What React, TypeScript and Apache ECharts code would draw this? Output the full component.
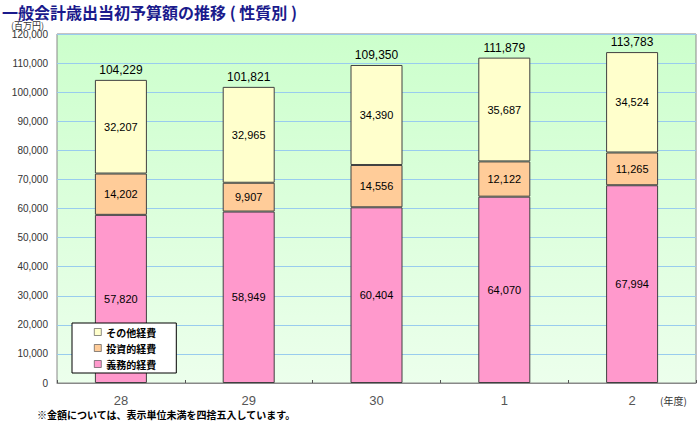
import React, { useEffect, useRef } from "react";
import * as echarts from "echarts";

const categories = ["28", "29", "30", "1", "2"];
const gimuteki = [57820, 58949, 60404, 64070, 67994];
const toushiteki = [14202, 9907, 14556, 12122, 11265];
const sonota = [32207, 32965, 34390, 35687, 34524];
const totals = [104229, 101821, 109350, 111879, 113783];
const seriesNames = ["義務的経費", "投資的経費", "その他経費"];
const legendOrder = ["その他経費", "投資的経費", "義務的経費"];

const FONT = "'Liberation Sans', 'Noto Sans CJK JP', sans-serif";
const JP = "'Noto Sans CJK JP', sans-serif";

const fmt = (v: number) => v.toLocaleString("en-US");

export default function App() {
  const ref = useRef<HTMLDivElement>(null);
  useEffect(() => {
    if (!ref.current) return;
    const chart = echarts.init(ref.current, null, { renderer: "svg" });
    const inside = {
      show: true,
      position: "inside",
      color: "#000",
      fontSize: 11,
      fontFamily: FONT,
      formatter: (p: any) => fmt(p.value),
    };
    const mk = (name: string, data: number[], color: string) => ({
      name,
      type: "bar",
      stack: "a",
      data,
      barWidth: 52,
      itemStyle: { color, borderColor: "#404040", borderWidth: 1 },
      label: inside,
      emphasis: { disabled: true },
    });
    chart.setOption({
      animation: false,
      backgroundColor: "#ffffff",
      textStyle: { fontFamily: FONT },
      title: {
        text: "一般会計歳出当初予算額の推移 ( 性質別 )",
        left: 2,
        top: 4,
        padding: 0,
        textStyle: { fontFamily: JP, fontSize: 16, lineHeight: 16, fontWeight: "bold", color: "#1a1a8c" },
      },
      grid: {
        left: 57,
        right: 4,
        top: 34,
        bottom: 47,
        show: true,
        borderColor: "#888888",
        borderWidth: 1,
        backgroundColor: new echarts.graphic.LinearGradient(0, 0, 0, 1, [
          { offset: 0, color: "#ccffcc" },
          { offset: 1, color: "#ecffec" },
        ]),
      },
      legend: {
        data: legendOrder,
        orient: "vertical",
        left: 72,
        top: 323,
        backgroundColor: "#ffffff",
        borderColor: "#000000",
        borderWidth: 1,
        borderRadius: 0,
        padding: [3, 20, 3, 22],
        itemWidth: 7,
        itemHeight: 7,
        itemGap: 4,
        icon: "rect",
        itemStyle: { borderWidth: 0.6 },
        textStyle: { fontFamily: JP, fontSize: 10, lineHeight: 12, fontWeight: "bold", color: "#000" },
      },
      xAxis: {
        type: "category",
        data: categories,
        axisLine: { lineStyle: { color: "#888888" } },
        axisTick: { show: true, inside: true, length: 3, lineStyle: { color: "#555" } },
        axisLabel: { fontSize: 13, color: "#555555", margin: 11 },
      },
      yAxis: {
        type: "value",
        min: 0,
        max: 120000,
        interval: 10000,
        axisLine: { show: false },
        axisTick: { show: false },
        axisLabel: { fontSize: 10, lineHeight: 10, color: "#333333", margin: 9, formatter: (v: number) => fmt(v) },
        splitLine: { lineStyle: { color: "#99ccee", width: 1 } },
      },
      series: [
        mk(seriesNames[0], gimuteki, "#ff99cc"),
        mk(seriesNames[1], toushiteki, "#ffcc99"),
        mk(seriesNames[2], sonota, "#ffffcc"),
        {
          name: "合計",
          type: "bar",
          stack: "a",
          data: totals.map(() => 0),
          barWidth: 52,
          itemStyle: { color: "transparent" },
          label: {
            show: true,
            position: "top",
            distance: 4,
            color: "#000",
            fontSize: 12,
            fontFamily: FONT,
            formatter: (p: any) => fmt(totals[p.dataIndex]),
          },
          emphasis: { disabled: true },
        },
      ],
      graphic: [
        {
          type: "text",
          left: 11,
          top: 21,
          style: { text: "(百万円)", fontFamily: JP, fontSize: 9, lineHeight: 8, fill: "#333" },
        },
        {
          type: "text",
          left: 660,
          top: 395,
          style: { text: "(年度)", fontFamily: JP, fontSize: 10, fill: "#333" },
        },
        {
          type: "text",
          left: 37,
          top: 409,
          style: {
            text: "※金額については、表示単位未満を四捨五入しています。",
            fontFamily: JP,
            fontSize: 10,
            fontWeight: "bold",
            fill: "#000",
          },
        },
      ],
    });
    return () => chart.dispose();
  }, []);
  return (
    <div
      ref={ref}
      style={{ position: "absolute", left: 0, top: 0, width: 700, height: 430 }}
    />
  );
}
